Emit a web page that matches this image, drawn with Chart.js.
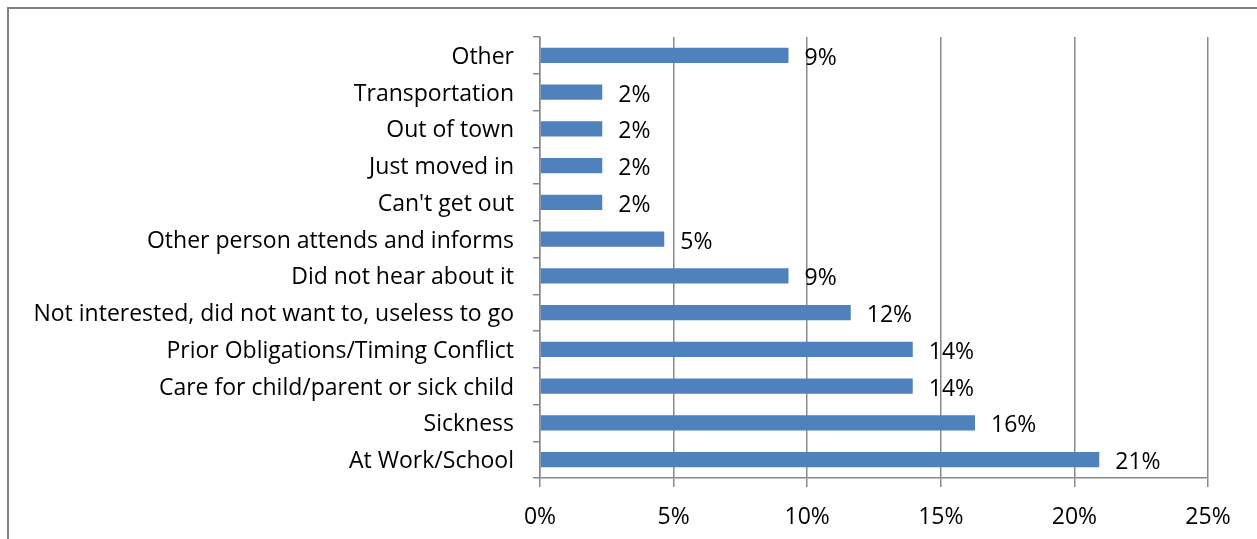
<!DOCTYPE html>
<html>
<head>
<meta charset="utf-8">
<script src="https://cdn.jsdelivr.net/npm/chart.js@4"></script>
<style>
  html, body { margin: 0; padding: 0; background: #fff; }
  #wrap { position: relative; width: 1257px; height: 539px; overflow: hidden; }
  #frame { position: absolute; left: 7px; top: 7px; width: 1400px; height: 700px;
           border-left: 2px solid #808080; border-top: 2px solid #808080; }
  canvas { position: absolute; left: 0; top: 0; }
</style>
</head>
<body>
<div id="wrap">
  <div id="frame"></div>
  <canvas id="myChart" width="1257" height="539"></canvas>
</div>
<script>
// categories, top to bottom
const categories = [
    'Other',
    'Transportation',
    'Out of town',
    'Just moved in',
    "Can't get out",
    'Other person attends and informs',
    'Did not hear about it',
    'Not interested, did not want to, useless to go',
    'Prior Obligations/Timing Conflict',
    'Care for child/parent or sick child',
    'Sickness',
    'At Work/School'
];
// percent of respondents
const values = [9.30, 2.33, 2.33, 2.33, 2.33, 4.65, 9.30, 11.63, 13.95, 13.95, 16.28, 20.93];
const xTicks = [0, 5, 10, 15, 20, 25];

const gridGray = '#8a8a8a';
const font = { family: 'Open Sans', size: 23 };

// value labels to the right of each bar
const barLabels = {
    id: 'barLabels',
    afterDatasetsDraw(chart) {
        const ctx = chart.ctx;
        const meta = chart.getDatasetMeta(0);
        ctx.save();
        ctx.font = '23px "Open Sans"';
        ctx.fillStyle = '#000';
        ctx.textAlign = 'left';
        ctx.textBaseline = 'middle';
        meta.data.forEach((bar, i) => {
            ctx.fillText(Math.round(values[i]) + '%', bar.x + 16, bar.y + 3);
        });
        ctx.restore();
    }
};

const ctx = document.getElementById('myChart').getContext('2d');
const chart = new Chart(ctx, {
    type: 'bar',
    data: {
        labels: categories,
        datasets: [{
            data: values,
            backgroundColor: '#4F81BD',
            borderWidth: 0,
            barPercentage: 0.42,
            categoryPercentage: 1
        }]
    },
    plugins: [barLabels],
    options: {
        indexAxis: 'y',
        responsive: false,
        animation: false,
        layout: { padding: { top: 37, right: 49, bottom: 0, left: 0 } },
        plugins: {
            legend: { display: false },
            tooltip: { enabled: false }
        },
        scales: {
            x: {
                min: 0,
                max: 25,
                afterBuildTicks: (scale) => {
                    scale.ticks = xTicks.map(v => ({ value: v }));
                },
                afterFit: (scale) => { scale.height = 61; },
                ticks: {
                    color: '#000',
                    font: font,
                    padding: 17,
                    maxRotation: 0,
                    callback: (v) => v + '%'
                },
                grid: {
                    color: gridGray,
                    lineWidth: 1.5,
                    tickLength: 9
                },
                border: { color: gridGray, width: 1.5 }
            },
            y: {
                afterFit: (scale) => {
                    scale.width = 540;
                    // nudge category labels down a little
                    scale.drawLabels = function (area) {
                        this.ctx.save();
                        this.ctx.translate(0, 2);
                        Object.getPrototypeOf(this).drawLabels.call(this, area);
                        this.ctx.restore();
                    };
                },
                ticks: {
                    color: '#000',
                    font: font,
                    padding: 19,
                    autoSkip: false
                },
                grid: {
                    drawOnChartArea: false,
                    color: gridGray,
                    lineWidth: 1.5,
                    tickLength: 7
                },
                border: { color: gridGray, width: 1.5 }
            }
        }
    }
});
</script>
</body>
</html>
